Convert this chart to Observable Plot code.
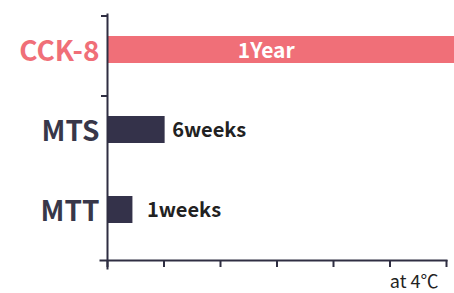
<!DOCTYPE html>
<html>
<head>
<meta charset="utf-8">
<script src="https://cdn.jsdelivr.net/npm/d3@7"></script>
<script src="https://cdn.jsdelivr.net/npm/@observablehq/plot@0.6"></script>
<style>
  html, body { margin: 0; padding: 0; background: #fff; }
  svg { display: block; }
</style>
</head>
<body>
<div id="chart"></div>
<script>
// ---- data ----
const categories = ["CCK-8", "MTS", "MTT"];
const durations = [6.15, 1.02, 0.45];          // bar lengths in axis units
const barLabels = ["1Year", "6weeks", "1weeks"];
const xTicks = [0, 1, 2, 3, 4, 5, 6];
const yTickCats = ["CCK-8", "MTS"];
const unitLabel = "at 4℃";

const pink = "#f06f78";
const dark = "#34324a";
const axisColor = "#2f2e42";

const data = categories.map((c, i) => ({cat: c, value: durations[i], label: barLabels[i]}));
const colorOf = d => d.cat === "CCK-8" ? pink : dark;

const font = "'Noto Sans CJK KR', 'Noto Sans', sans-serif";

const chart = Plot.plot({
  width: 454,
  height: 293,
  marginLeft: 107,
  marginRight: 8,
  marginTop: 14,
  marginBottom: 33,
  style: {fontFamily: font, background: "#fff", overflow: "hidden"},
  x: {domain: [0, 6], axis: null},
  y: {domain: categories, padding: 0.666, paddingOuter: 0.356, align: 0.365, axis: null},
  color: {type: "identity"},
  marks: [
    Plot.barX(data, {y: "cat", x: "value", fill: colorOf}),
    // category labels
    Plot.text(data, {y: "cat", frameAnchor: "left", text: "cat", textAnchor: "end", dx: -8, dy: 2,
      fill: d => d.cat === "CCK-8" ? pink : "#383749", fontSize: 28, fontWeight: 600}),
    // bar labels
    Plot.text(data.filter(d => d.cat === "CCK-8"), {y: "cat", x: d => d.value / 2, text: "label",
      textAnchor: "middle", dx: -15, dy: 1, fill: "#fff", fontSize: 21, fontWeight: 600}),
    Plot.text(data.filter(d => d.cat === "MTS"), {y: "cat", x: "value", text: "label",
      textAnchor: "start", dx: 7, dy: 1, fill: "#222", fontSize: 20, fontWeight: 700}),
    Plot.text(data.filter(d => d.cat === "MTT"), {y: "cat", x: "value", text: "label",
      textAnchor: "start", dx: 14, dy: 1, fill: "#222", fontSize: 20, fontWeight: 700}),
    // axes
    Plot.axisX({ticks: xTicks, tickSize: 7, tickFormat: () => "", label: null,
      stroke: axisColor, strokeWidth: 2}),
    Plot.axisY({ticks: yTickCats, tickSize: 6, tickFormat: () => "", label: null, dy: -34,
      stroke: axisColor, strokeWidth: 2}),
    Plot.frame({anchor: "bottom", insetLeft: -7, stroke: axisColor, strokeWidth: 2}),
    Plot.frame({anchor: "left", insetBottom: -8, stroke: axisColor, strokeWidth: 2}),
    Plot.text([unitLabel], {text: d => d, frameAnchor: "bottom-right", textAnchor: "end",
      lineAnchor: "bottom", dx: -8, dy: 27, fill: "#222", fontSize: 18})
  ]
});
document.getElementById("chart").appendChild(chart);
</script>
</body>
</html>
